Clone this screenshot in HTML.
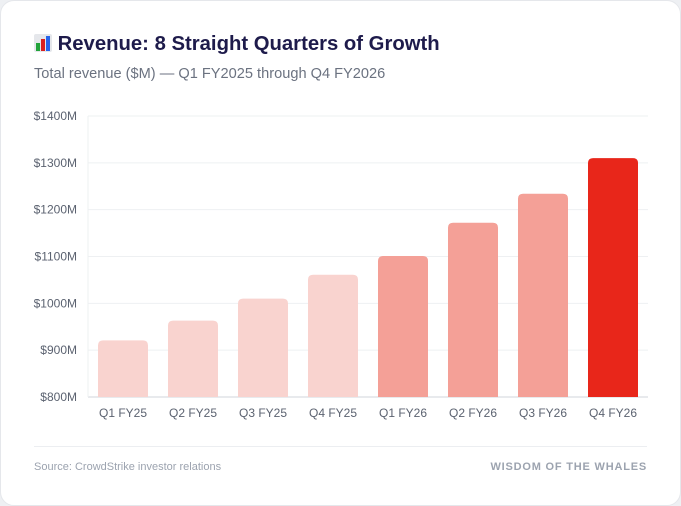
<!DOCTYPE html>
<html><head><meta charset="utf-8"><style>
body{margin:0;background:#eef0f3;font-family:"Liberation Sans",sans-serif;}
.card{position:absolute;left:0;top:0;width:679px;height:504px;background:#fff;border:1px solid #e5e7eb;border-radius:14px;}
.title{position:absolute;left:33px;top:32px;font-size:20.3px;font-weight:bold;color:#1e1b4b;}
.sub{position:absolute;left:33px;top:65px;font-size:14.6px;color:#6b7280;}
.foot{position:absolute;top:460px;font-size:11px;color:#9ca3af;}
</style></head><body>
<div class="card">
<div class="title"><svg width="18" height="18" viewBox="0 0 18 18" style="vertical-align:-2px"><rect x="0" y="0" width="18" height="18" rx="2" fill="#e5e7eb"/><rect x="2" y="9" width="4" height="8" fill="#22a33a"/><rect x="7" y="5" width="4" height="12" fill="#d92020"/><rect x="12" y="2" width="4" height="15" fill="#2563eb"/></svg> Revenue: 8 Straight Quarters of Growth</div>
<div class="sub">Total revenue ($M) — Q1 FY2025 through Q4 FY2026</div>
<svg id="chart" width="681" height="440" style="position:absolute;left:0;top:0"></svg>
<div style="position:absolute;left:33px;right:33px;top:445px;border-top:1px solid #eceef1"></div>
<div class="foot" style="left:33px">Source: CrowdStrike investor relations</div>
<div class="foot" style="right:33px;font-weight:bold;letter-spacing:0.8px;color:#9ca3af">WISDOM OF THE WHALES</div>
</div>
<script>
const categories=["Q1 FY25","Q2 FY25","Q3 FY25","Q4 FY25","Q1 FY26","Q2 FY26","Q3 FY26","Q4 FY26"];
const revenue=[921,963,1010,1061,1101,1172,1234,1310];
const yTicks=[800,900,1000,1100,1200,1300,1400];
const svg=document.getElementById('chart');
const NS='http://www.w3.org/2000/svg';
const x0=87,x1=647,yTop=115,yBot=396,yMin=800,yMax=1400;
const y=v=>yBot-(v-yMin)/(yMax-yMin)*(yBot-yTop);
const step=(x1-x0)/categories.length;
const xc=i=>x0+step*(i+0.5);
function mk(t,a){const e=document.createElementNS(NS,t);for(const k in a)e.setAttribute(k,a[k]);svg.appendChild(e);return e;}
yTicks.forEach(v=>{
 const g=mk('line',{x1:x0,x2:x1,y1:y(v),y2:y(v),stroke:v===yMin?'#d1d5db':'#eef0f2'});
 
 
 const t=mk('text',{x:x0-11,y:y(v)+4,'text-anchor':'end','font-size':12,fill:'#5b6270','font-family':'Liberation Sans'});
 t.textContent='$'+v+'M';
 
 
});
const ax=mk('line',{x1:x0,x2:x0,y1:yTop,y2:yBot,stroke:'#eef0f2'});


const bw=50;
revenue.forEach((v,i)=>{
 const fill=i===7?'#e8261a':(i>=4?'#f4a097':'#f9d3cf');
 const top=y(v),X=xc(i)-bw/2,r=5;
 const p=mk('path',{d:`M${X},${yBot}V${top+r}Q${X},${top} ${X+r},${top}H${X+bw-r}Q${X+bw},${top} ${X+bw},${top+r}V${yBot}Z`,fill});
 
 
 const t=mk('text',{x:xc(i),y:yBot+20,'text-anchor':'middle','font-size':12,fill:'#5b6270','font-family':'Liberation Sans'});
 t.textContent=categories[i];
 
 
});
</script>
</body></html>
